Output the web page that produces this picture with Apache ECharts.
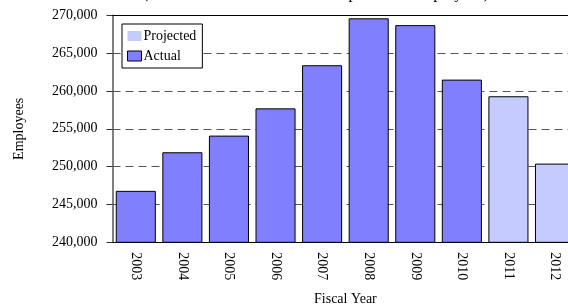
<!DOCTYPE html>
<html>
<head>
<meta charset="utf-8">
<script src="https://cdn.jsdelivr.net/npm/echarts@6/dist/echarts.min.js"></script>
<style>html,body{margin:0;padding:0;background:#fff}#c{width:568px;height:305px}</style>
</head>
<body>
<div id="c"></div>
<script>
const categories = ['2003','2004','2005','2006','2007','2008','2009','2010','2011','2012'];
const actual =    [246800, 251900, 254100, 257700, 263400, 269600, 268700, 261500, '-', '-'];
const projected = ['-', '-', '-', '-', '-', '-', '-', '-', 259300, 250400];
const yMin = 240000, yMax = 270000, yStep = 5000;
const titleText = '(Total number of full-time and part-time employees)';
const FONT = '"Liberation Serif", "Times New Roman", serif';

const chart = echarts.init(document.getElementById('c'), null, {renderer: 'canvas'});
chart.setOption({
  animation: false,
  backgroundColor: '#fff',
  textStyle: {fontFamily: FONT},
  graphic: [{
    type: 'text', left: 143, top: -15,
    style: {text: titleText, font: '16.5px ' + FONT, fill: '#000'}
  }],
  legend: {
    orient: 'vertical', left: 122, top: 24, icon: 'rect',
    padding: [5, 6, 5, 5], itemGap: 6, itemWidth: 14, itemHeight: 10,
    backgroundColor: '#fff', borderColor: '#000', borderWidth: 1, borderRadius: 0,
    textStyle: {fontFamily: FONT, fontSize: 14, color: '#000', padding: [0,0,0,-3]},
    data: [
      {name: 'Projected', itemStyle: {borderWidth: 0}},
      {name: 'Actual', itemStyle: {borderColor: '#000', borderWidth: 1}}
    ]
  },
  grid: {left: 112.5, right: -10.3, top: 15.3, bottom: 62.7, containLabel: false, outerBoundsMode: 'none'},
  xAxis: [{
    type: 'category', data: categories, position: 'bottom',
    name: 'Fiscal Year', nameLocation: 'middle', nameGap: 50,
    nameTextStyle: {fontFamily: FONT, fontSize: 14, color: '#000'},
    axisLine: {lineStyle: {color: '#000', width: 1}},
    axisTick: {alignWithLabel: true, length: 6, lineStyle: {color: '#444'}},
    axisLabel: {rotate: -90, margin: 10, fontFamily: FONT, fontSize: 14, color: '#000'}
  }, {
    type: 'category', data: categories, position: 'top',
    axisLine: {lineStyle: {color: '#000', width: 1}},
    axisTick: {show: false}, axisLabel: {show: false}
  }],
  yAxis: {
    type: 'value', min: yMin, max: yMax, interval: yStep,
    name: 'Employees', nameLocation: 'middle', nameGap: 86, nameRotate: 90,
    nameTextStyle: {fontFamily: FONT, fontSize: 14, color: '#000'},
    axisLine: {show: true, lineStyle: {color: '#555', width: 1.5}},
    axisTick: {show: true, length: 6, lineStyle: {color: '#333'}},
    axisLabel: {margin: 15, fontFamily: FONT, fontSize: 14, color: '#000',
      formatter: v => v.toLocaleString('en-US')},
    splitLine: {show: true, lineStyle: {color: '#555', type: [8, 5], width: 1}}
  },
  series: [{
    name: 'Actual', type: 'bar', data: actual, barGap: '-100%', barCategoryGap: '14%',
    itemStyle: {color: '#8080FF', borderColor: '#000', borderWidth: 1}
  }, {
    name: 'Projected', type: 'bar', data: projected, barGap: '-100%', barCategoryGap: '14%',
    itemStyle: {color: '#C4CCFF', borderColor: '#000', borderWidth: 1}
  }]
});
</script>
</body>
</html>
